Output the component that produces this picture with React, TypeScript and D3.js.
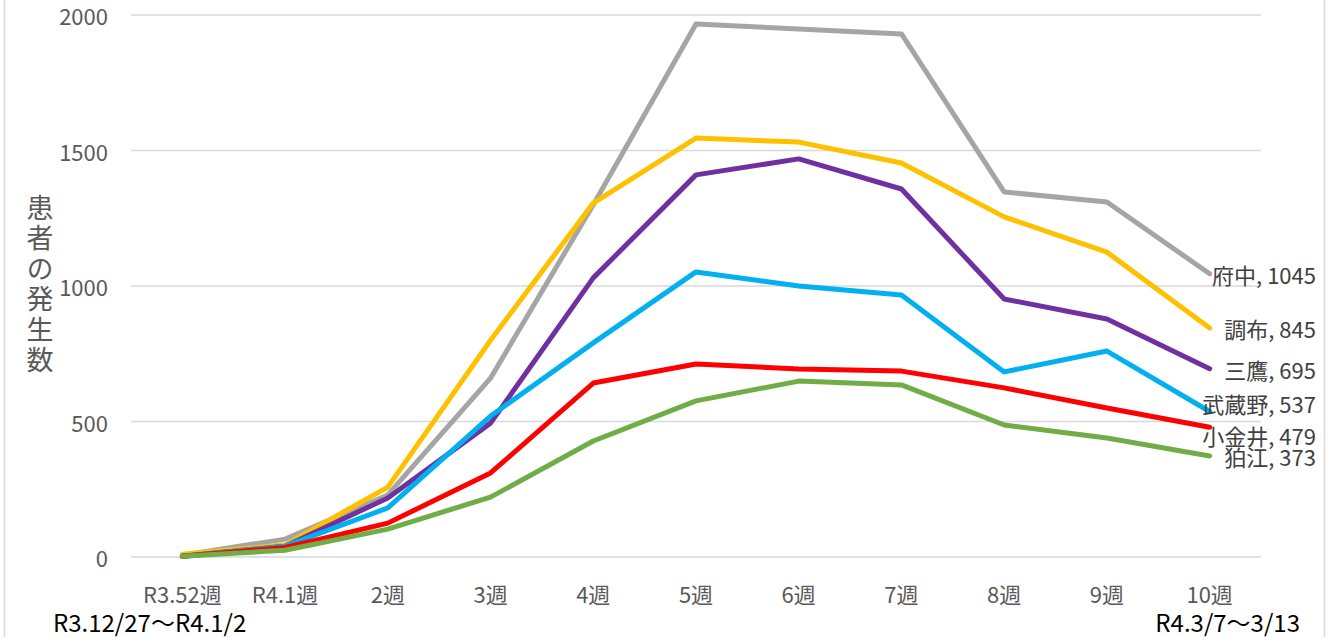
import React from "react";
import * as d3 from "d3";

const categories = ["R3.52週", "R4.1週", "2週", "3週", "4週", "5週", "6週", "7週", "8週", "9週", "10週"];
const yTicks = [0, 500, 1000, 1500, 2000];

const fuchu = [7, 66, 229, 660, 1300, 1967, 1948, 1930, 1347, 1310, 1045];
const chofu = [10, 45, 258, 800, 1306, 1546, 1531, 1454, 1255, 1125, 845];
const mitaka = [3, 40, 218, 494, 1030, 1410, 1469, 1358, 952, 878, 695];
const musashino = [3, 40, 181, 520, 790, 1052, 1000, 967, 683, 760, 537];
const koganei = [3, 35, 125, 310, 642, 712, 694, 686, 624, 550, 479];
const komae = [3, 25, 103, 221, 428, 576, 649, 635, 487, 439, 373];

const seriesNames = ["府中", "調布", "三鷹", "武蔵野", "小金井", "狛江"];
const seriesValues = [fuchu, chofu, mitaka, musashino, koganei, komae];
const seriesColors = ["#A5A5A5", "#FFC000", "#7030A0", "#00B0F0", "#FF0000", "#70AD47"];
const labelOffsets = [0, 0, 0, -8, 8, 0];

const startNote = "R3.12/27～R4.1/2";
const endNote = "R4.3/7～3/13";
const yTitle = "患者の発生数";

const W = 1332;
const H = 637;
const left = 131;
const right = 1261;
const top = 15;
const bottom = 557;

export default function App() {
  const x = d3.scaleBand<string>().domain(categories).range([left, right]);
  const y = d3.scaleLinear().domain([0, 2000]).range([bottom, top]);
  const cx = (c: string) => (x(c) ?? 0) + x.bandwidth() / 2;
  const line = d3
    .line<number>()
    .x((_, i) => cx(categories[i]))
    .y((d) => y(d));
  const font = "'Noto Sans CJK JP', 'Noto Sans', sans-serif";

  return (
    <svg
      width={W}
      height={H}
      style={{ position: "absolute", left: 0, top: 0, background: "#fff" }}
      fontFamily={font}
    >
      <rect x={0} y={0} width={W} height={H} fill="#fff" />
      <line x1={4.5} x2={4.5} y1={0} y2={H} stroke="#d9d9d9" strokeWidth={1.5} />
      <line x1={1324.5} x2={1324.5} y1={0} y2={H} stroke="#d9d9d9" strokeWidth={1.5} />
      {yTicks.map((t) => (
        <g key={t}>
          <line x1={left} x2={right} y1={y(t)} y2={y(t)} stroke="#d9d9d9" strokeWidth={1.5} />
          <text
            x={108}
            y={y(t)}
            textAnchor="end"
            dominantBaseline="central"
            fontSize={22}
            fill="#595959"
          >
            {t}
          </text>
        </g>
      ))}
      <text
        x={40}
        y={194}
        style={{ writingMode: "vertical-rl" }}
        fontSize={27}
        letterSpacing={3.5}
        fill="#595959"
      >
        {yTitle}
      </text>
      {categories.map((c) => (
        <text
          key={c}
          x={cx(c)}
          y={593}
          textAnchor="middle"
          dominantBaseline="central"
          fontSize={22}
          fill="#595959"
        >
          {c}
        </text>
      ))}
      <text x={53} y={621} dominantBaseline="central" fontSize={24} fill="#000">
        {startNote}
      </text>
      <text x={1300} y={621} textAnchor="end" dominantBaseline="central" fontSize={24} fill="#000">
        {endNote}
      </text>
      {seriesValues.map((vals, s) => (
        <path
          key={seriesNames[s]}
          d={line(vals) ?? ""}
          fill="none"
          stroke={seriesColors[s]}
          strokeWidth={5}
          strokeLinejoin="round"
          strokeLinecap="round"
        />
      ))}
      {seriesValues.map((vals, s) => (
        <text
          key={"l" + s}
          x={1316}
          y={y(vals[vals.length - 1]) + labelOffsets[s]}
          textAnchor="end"
          dominantBaseline="central"
          fontSize={22}
          fill="#404040"
        >
          {`${seriesNames[s]}, ${vals[vals.length - 1]}`}
        </text>
      ))}
    </svg>
  );
}
